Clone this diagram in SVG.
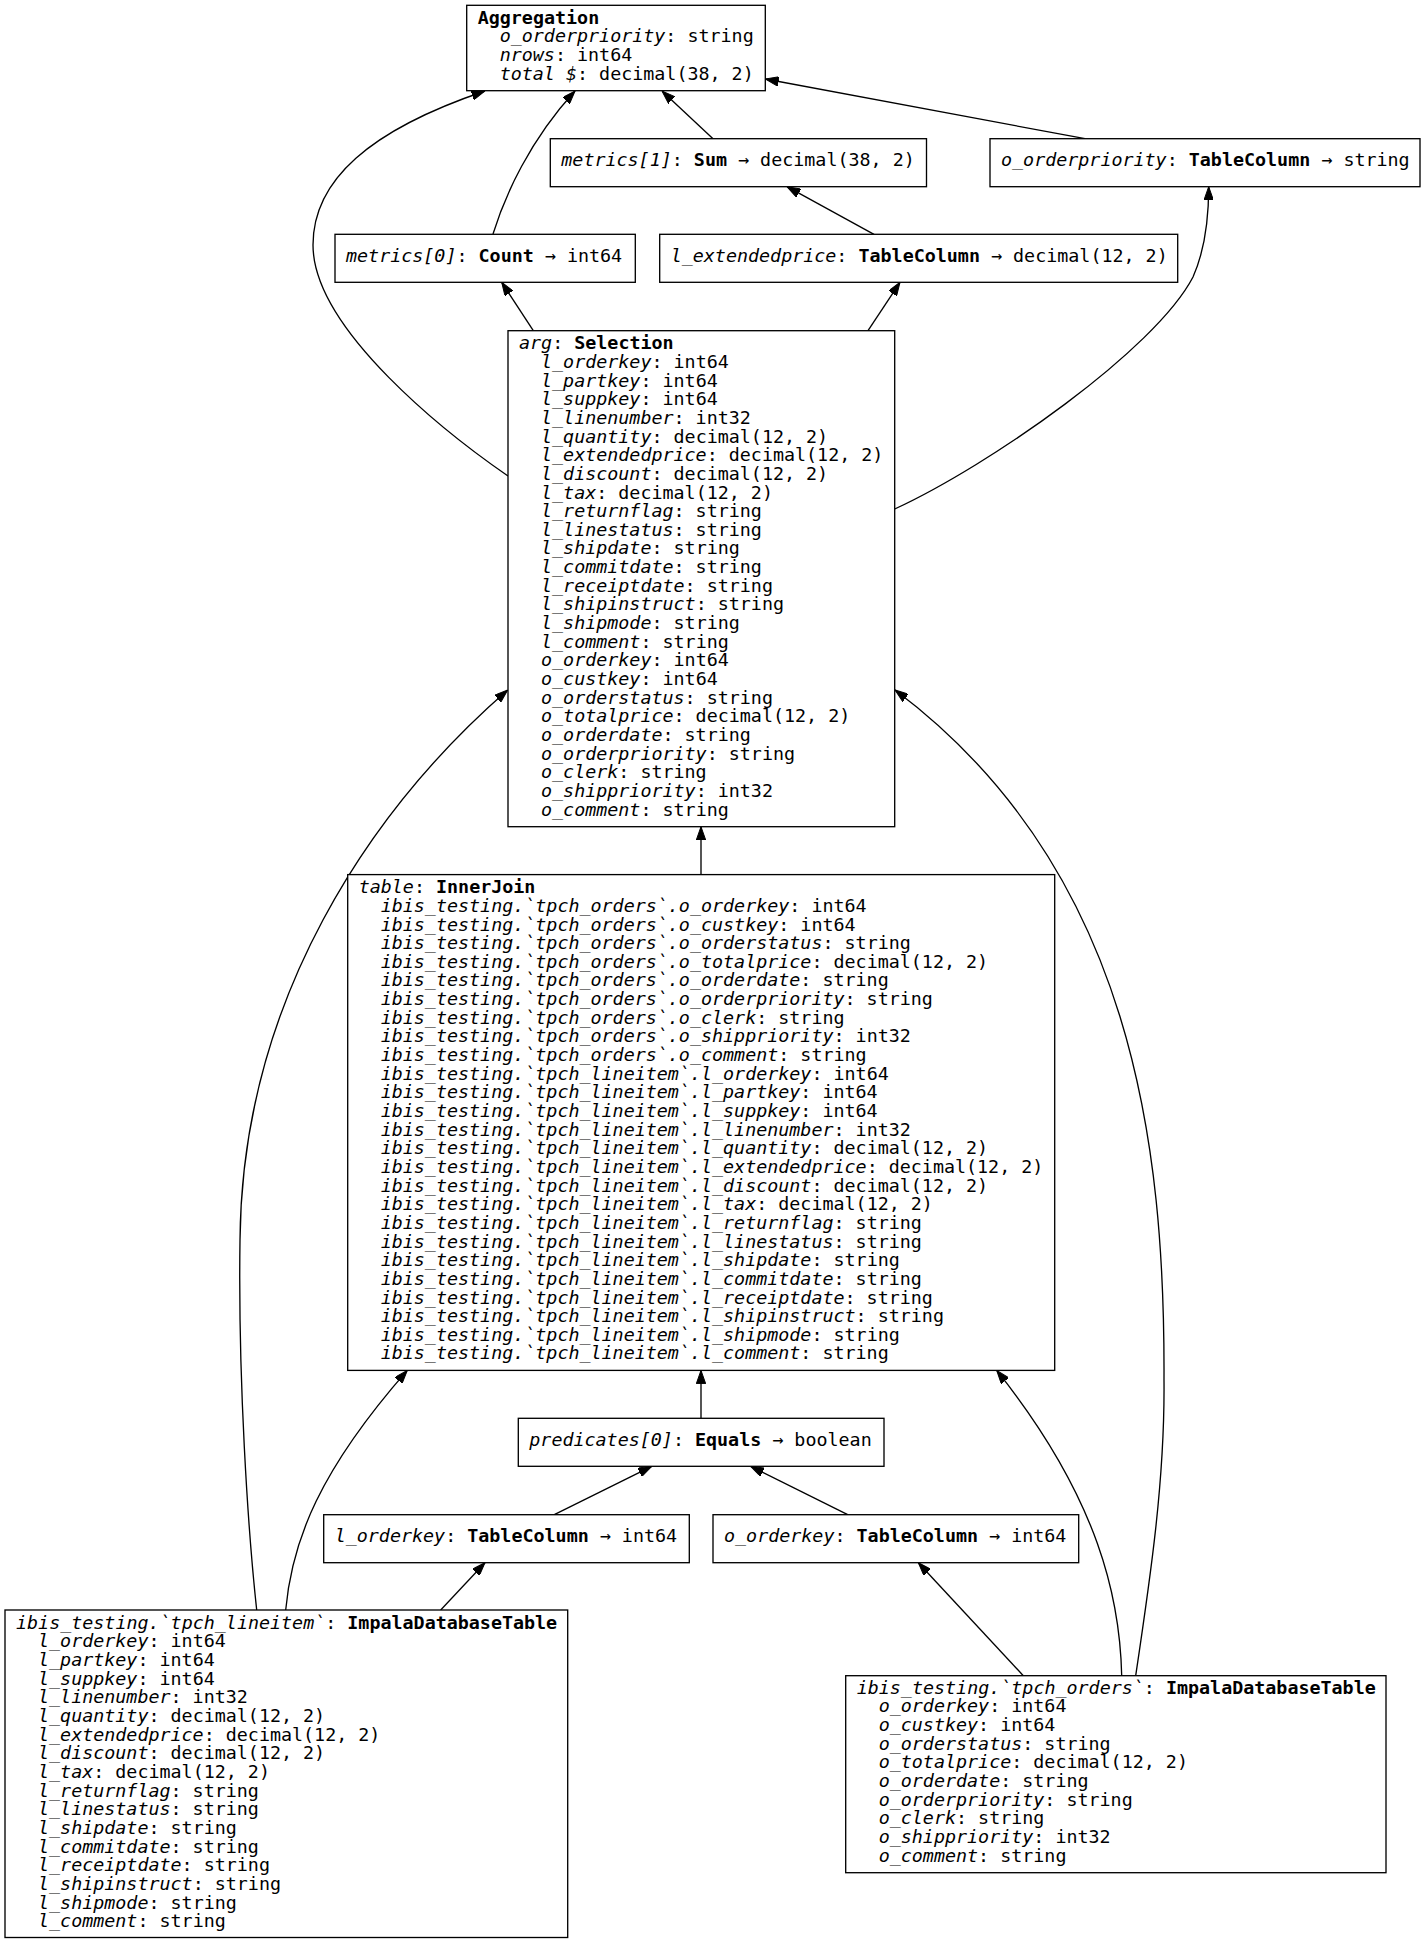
<svg xmlns="http://www.w3.org/2000/svg" width="1426" height="1944" viewBox="0 0 1426 1944">
<style>
.bg{fill:#fff}
.box{fill:#fff;stroke:#000;stroke-width:1.33}
.t{font-family:"DejaVu Sans Mono",monospace;font-size:18.35px;fill:#000}
.i{font-style:italic}
.b{font-weight:bold}
.e{fill:none;stroke:#000;stroke-width:1.33;marker-end:url(#ah)}
</style>
<defs>
<marker id="ah" markerUnits="userSpaceOnUse" viewBox="0 0 13.3 9.4" markerWidth="13.3" markerHeight="9.4" refX="13.3" refY="4.7" orient="auto">
<path d="M0,0 L13.3,4.7 L0,9.4 z" fill="#000" stroke="#000" stroke-width="1"/>
</marker>
</defs>
<rect class="bg" x="0" y="0" width="1426" height="1944"/>

<g id="connectors">
<path class="e" d="M508,476 C450,436 313,330 313,245 C313,180 370,130 485,91"/>
<path class="e" d="M493,234 C505,195 530,140 575,91"/>
<path class="e" d="M713,138.7 L662,91"/>
<path class="e" d="M1085,138.7 L765.3,79"/>
<path class="e" d="M874,234.3 L787,186.7"/>
<path class="e" d="M533.3,330.7 L501.7,282.3"/>
<path class="e" d="M868,330.7 L900,282.3"/>
<path class="e" d="M894.7,509 C990,465 1155,350 1193,277 C1205,250 1208.7,220 1208.7,186.7"/>
<path class="e" d="M701,874.6 L701,826.7"/>
<path class="e" d="M256.7,1610 C248,1530 238,1380 240,1240 C242,1000 370,810 507.7,690"/>
<path class="e" d="M285.7,1610 C292,1540 320,1470 407.3,1370.4"/>
<path class="e" d="M440.7,1610 L485,1562.7"/>
<path class="e" d="M701,1418.3 L701,1370.4"/>
<path class="e" d="M554.3,1514.7 L651.7,1466.3"/>
<path class="e" d="M847.7,1514.7 L750.7,1466.3"/>
<path class="e" d="M1023.3,1675.7 L918.3,1562.7"/>
<path class="e" d="M1121.7,1675.7 C1120,1600 1100,1500 996.7,1370.4"/>
<path class="e" d="M1135.7,1675.7 C1150,1580 1165,1480 1164,1380 C1165,1150 1135,870 895,690"/>
</g>

<g id="aggregation">
<rect class="box" x="466.7" y="5.3" width="298.6" height="85.4"/>
<text class="t b" x="477.7" y="23.6">Aggregation</text>
<text class="t" x="499.7" y="42.3"><tspan class="i">o_orderpriority</tspan>: string</text>
<text class="t" x="499.7" y="60.9"><tspan class="i">nrows</tspan>: int64</text>
<text class="t" x="499.7" y="79.6"><tspan class="i">total $</tspan>: decimal(38, 2)</text>
</g>

<g id="metrics1">
<rect class="box" x="550.3" y="138.7" width="376.2" height="48"/>
<text class="t" x="561.3" y="166.1"><tspan class="i">metrics[1]</tspan>: <tspan class="b">Sum</tspan> → decimal(38, 2)</text>
</g>

<g id="o_orderpriority_col">
<rect class="box" x="990" y="138.7" width="430" height="48"/>
<text class="t" x="1001" y="166.1"><tspan class="i">o_orderpriority</tspan>: <tspan class="b">TableColumn</tspan> → string</text>
</g>

<g id="metrics0">
<rect class="box" x="335" y="234.3" width="300.3" height="48"/>
<text class="t" x="346" y="261.7"><tspan class="i">metrics[0]</tspan>: <tspan class="b">Count</tspan> → int64</text>
</g>

<g id="l_extendedprice_col">
<rect class="box" x="659.7" y="234.3" width="518" height="48"/>
<text class="t" x="670.7" y="261.7"><tspan class="i">l_extendedprice</tspan>: <tspan class="b">TableColumn</tspan> → decimal(12, 2)</text>
</g>

<g id="selection">
<rect class="box" x="508" y="330.7" width="386.7" height="496"/>
<text class="t" x="519" y="349.3"><tspan class="i">arg</tspan>: <tspan class="b">Selection</tspan></text>
<text class="t" x="541" y="367.95"><tspan class="i">l_orderkey</tspan>: int64</text>
<text class="t" x="541" y="386.6"><tspan class="i">l_partkey</tspan>: int64</text>
<text class="t" x="541" y="405.25"><tspan class="i">l_suppkey</tspan>: int64</text>
<text class="t" x="541" y="423.9"><tspan class="i">l_linenumber</tspan>: int32</text>
<text class="t" x="541" y="442.55"><tspan class="i">l_quantity</tspan>: decimal(12, 2)</text>
<text class="t" x="541" y="461.2"><tspan class="i">l_extendedprice</tspan>: decimal(12, 2)</text>
<text class="t" x="541" y="479.85"><tspan class="i">l_discount</tspan>: decimal(12, 2)</text>
<text class="t" x="541" y="498.5"><tspan class="i">l_tax</tspan>: decimal(12, 2)</text>
<text class="t" x="541" y="517.15"><tspan class="i">l_returnflag</tspan>: string</text>
<text class="t" x="541" y="535.8"><tspan class="i">l_linestatus</tspan>: string</text>
<text class="t" x="541" y="554.45"><tspan class="i">l_shipdate</tspan>: string</text>
<text class="t" x="541" y="573.1"><tspan class="i">l_commitdate</tspan>: string</text>
<text class="t" x="541" y="591.75"><tspan class="i">l_receiptdate</tspan>: string</text>
<text class="t" x="541" y="610.4"><tspan class="i">l_shipinstruct</tspan>: string</text>
<text class="t" x="541" y="629.05"><tspan class="i">l_shipmode</tspan>: string</text>
<text class="t" x="541" y="647.7"><tspan class="i">l_comment</tspan>: string</text>
<text class="t" x="541" y="666.35"><tspan class="i">o_orderkey</tspan>: int64</text>
<text class="t" x="541" y="685"><tspan class="i">o_custkey</tspan>: int64</text>
<text class="t" x="541" y="703.65"><tspan class="i">o_orderstatus</tspan>: string</text>
<text class="t" x="541" y="722.3"><tspan class="i">o_totalprice</tspan>: decimal(12, 2)</text>
<text class="t" x="541" y="740.95"><tspan class="i">o_orderdate</tspan>: string</text>
<text class="t" x="541" y="759.6"><tspan class="i">o_orderpriority</tspan>: string</text>
<text class="t" x="541" y="778.25"><tspan class="i">o_clerk</tspan>: string</text>
<text class="t" x="541" y="796.9"><tspan class="i">o_shippriority</tspan>: int32</text>
<text class="t" x="541" y="815.55"><tspan class="i">o_comment</tspan>: string</text>
</g>

<g id="innerjoin">
<rect class="box" x="347.7" y="874.6" width="707" height="495.8"/>
<text class="t" x="358.7" y="893.2"><tspan class="i">table</tspan>: <tspan class="b">InnerJoin</tspan></text>
<text class="t" x="380.7" y="911.85"><tspan class="i">ibis_testing.`tpch_orders`.o_orderkey</tspan>: int64</text>
<text class="t" x="380.7" y="930.5"><tspan class="i">ibis_testing.`tpch_orders`.o_custkey</tspan>: int64</text>
<text class="t" x="380.7" y="949.15"><tspan class="i">ibis_testing.`tpch_orders`.o_orderstatus</tspan>: string</text>
<text class="t" x="380.7" y="967.8"><tspan class="i">ibis_testing.`tpch_orders`.o_totalprice</tspan>: decimal(12, 2)</text>
<text class="t" x="380.7" y="986.45"><tspan class="i">ibis_testing.`tpch_orders`.o_orderdate</tspan>: string</text>
<text class="t" x="380.7" y="1005.1"><tspan class="i">ibis_testing.`tpch_orders`.o_orderpriority</tspan>: string</text>
<text class="t" x="380.7" y="1023.75"><tspan class="i">ibis_testing.`tpch_orders`.o_clerk</tspan>: string</text>
<text class="t" x="380.7" y="1042.4"><tspan class="i">ibis_testing.`tpch_orders`.o_shippriority</tspan>: int32</text>
<text class="t" x="380.7" y="1061.05"><tspan class="i">ibis_testing.`tpch_orders`.o_comment</tspan>: string</text>
<text class="t" x="380.7" y="1079.7"><tspan class="i">ibis_testing.`tpch_lineitem`.l_orderkey</tspan>: int64</text>
<text class="t" x="380.7" y="1098.35"><tspan class="i">ibis_testing.`tpch_lineitem`.l_partkey</tspan>: int64</text>
<text class="t" x="380.7" y="1117"><tspan class="i">ibis_testing.`tpch_lineitem`.l_suppkey</tspan>: int64</text>
<text class="t" x="380.7" y="1135.65"><tspan class="i">ibis_testing.`tpch_lineitem`.l_linenumber</tspan>: int32</text>
<text class="t" x="380.7" y="1154.3"><tspan class="i">ibis_testing.`tpch_lineitem`.l_quantity</tspan>: decimal(12, 2)</text>
<text class="t" x="380.7" y="1172.95"><tspan class="i">ibis_testing.`tpch_lineitem`.l_extendedprice</tspan>: decimal(12, 2)</text>
<text class="t" x="380.7" y="1191.6"><tspan class="i">ibis_testing.`tpch_lineitem`.l_discount</tspan>: decimal(12, 2)</text>
<text class="t" x="380.7" y="1210.25"><tspan class="i">ibis_testing.`tpch_lineitem`.l_tax</tspan>: decimal(12, 2)</text>
<text class="t" x="380.7" y="1228.9"><tspan class="i">ibis_testing.`tpch_lineitem`.l_returnflag</tspan>: string</text>
<text class="t" x="380.7" y="1247.55"><tspan class="i">ibis_testing.`tpch_lineitem`.l_linestatus</tspan>: string</text>
<text class="t" x="380.7" y="1266.2"><tspan class="i">ibis_testing.`tpch_lineitem`.l_shipdate</tspan>: string</text>
<text class="t" x="380.7" y="1284.85"><tspan class="i">ibis_testing.`tpch_lineitem`.l_commitdate</tspan>: string</text>
<text class="t" x="380.7" y="1303.5"><tspan class="i">ibis_testing.`tpch_lineitem`.l_receiptdate</tspan>: string</text>
<text class="t" x="380.7" y="1322.15"><tspan class="i">ibis_testing.`tpch_lineitem`.l_shipinstruct</tspan>: string</text>
<text class="t" x="380.7" y="1340.8"><tspan class="i">ibis_testing.`tpch_lineitem`.l_shipmode</tspan>: string</text>
<text class="t" x="380.7" y="1359.45"><tspan class="i">ibis_testing.`tpch_lineitem`.l_comment</tspan>: string</text>
</g>

<g id="predicates0">
<rect class="box" x="518.3" y="1418.3" width="365.7" height="48"/>
<text class="t" x="529.3" y="1445.7"><tspan class="i">predicates[0]</tspan>: <tspan class="b">Equals</tspan> → boolean</text>
</g>

<g id="l_orderkey_col">
<rect class="box" x="323.7" y="1514.7" width="365.6" height="48"/>
<text class="t" x="334.7" y="1542.1"><tspan class="i">l_orderkey</tspan>: <tspan class="b">TableColumn</tspan> → int64</text>
</g>

<g id="o_orderkey_col">
<rect class="box" x="713" y="1514.7" width="365.7" height="48"/>
<text class="t" x="724" y="1542.1"><tspan class="i">o_orderkey</tspan>: <tspan class="b">TableColumn</tspan> → int64</text>
</g>

<g id="lineitem_table">
<rect class="box" x="5" y="1610" width="562.7" height="327.5"/>
<text class="t" x="16" y="1628.8"><tspan class="i">ibis_testing.`tpch_lineitem`</tspan>: <tspan class="b">ImpalaDatabaseTable</tspan></text>
<text class="t" x="38" y="1647.45"><tspan class="i">l_orderkey</tspan>: int64</text>
<text class="t" x="38" y="1666.1"><tspan class="i">l_partkey</tspan>: int64</text>
<text class="t" x="38" y="1684.75"><tspan class="i">l_suppkey</tspan>: int64</text>
<text class="t" x="38" y="1703.4"><tspan class="i">l_linenumber</tspan>: int32</text>
<text class="t" x="38" y="1722.05"><tspan class="i">l_quantity</tspan>: decimal(12, 2)</text>
<text class="t" x="38" y="1740.7"><tspan class="i">l_extendedprice</tspan>: decimal(12, 2)</text>
<text class="t" x="38" y="1759.35"><tspan class="i">l_discount</tspan>: decimal(12, 2)</text>
<text class="t" x="38" y="1778"><tspan class="i">l_tax</tspan>: decimal(12, 2)</text>
<text class="t" x="38" y="1796.65"><tspan class="i">l_returnflag</tspan>: string</text>
<text class="t" x="38" y="1815.3"><tspan class="i">l_linestatus</tspan>: string</text>
<text class="t" x="38" y="1833.95"><tspan class="i">l_shipdate</tspan>: string</text>
<text class="t" x="38" y="1852.6"><tspan class="i">l_commitdate</tspan>: string</text>
<text class="t" x="38" y="1871.25"><tspan class="i">l_receiptdate</tspan>: string</text>
<text class="t" x="38" y="1889.9"><tspan class="i">l_shipinstruct</tspan>: string</text>
<text class="t" x="38" y="1908.55"><tspan class="i">l_shipmode</tspan>: string</text>
<text class="t" x="38" y="1927.2"><tspan class="i">l_comment</tspan>: string</text>
</g>

<g id="orders_table">
<rect class="box" x="845.7" y="1675.7" width="540.3" height="197"/>
<text class="t" x="856.7" y="1693.8"><tspan class="i">ibis_testing.`tpch_orders`</tspan>: <tspan class="b">ImpalaDatabaseTable</tspan></text>
<text class="t" x="878.7" y="1712.45"><tspan class="i">o_orderkey</tspan>: int64</text>
<text class="t" x="878.7" y="1731.1"><tspan class="i">o_custkey</tspan>: int64</text>
<text class="t" x="878.7" y="1749.75"><tspan class="i">o_orderstatus</tspan>: string</text>
<text class="t" x="878.7" y="1768.4"><tspan class="i">o_totalprice</tspan>: decimal(12, 2)</text>
<text class="t" x="878.7" y="1787.05"><tspan class="i">o_orderdate</tspan>: string</text>
<text class="t" x="878.7" y="1805.7"><tspan class="i">o_orderpriority</tspan>: string</text>
<text class="t" x="878.7" y="1824.35"><tspan class="i">o_clerk</tspan>: string</text>
<text class="t" x="878.7" y="1843"><tspan class="i">o_shippriority</tspan>: int32</text>
<text class="t" x="878.7" y="1861.65"><tspan class="i">o_comment</tspan>: string</text>
</g>
</svg>
